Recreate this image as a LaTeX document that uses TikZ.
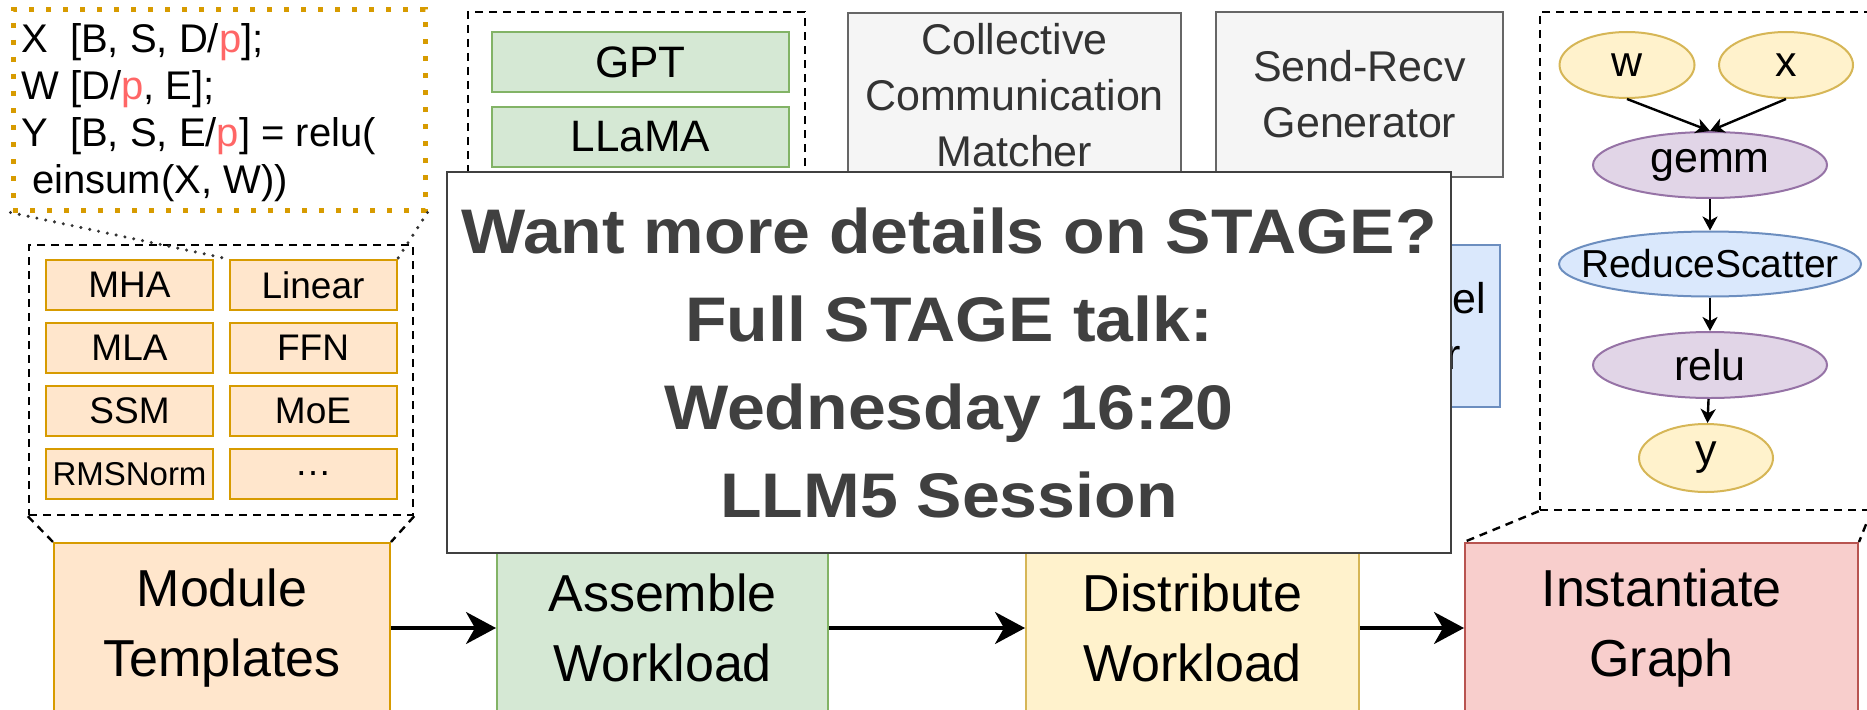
\documentclass[tikz,border=0pt]{standalone}
\usepackage{fontspec}
\setmainfont{Liberation Sans}
\newfontfamily\notefont[FakeStretch=1.08]{Liberation Sans}
\usepackage{xcolor}
\usepackage{tikz}
\usetikzlibrary{shapes.geometric,arrows.meta,positioning}
\definecolor{cOrange}{HTML}{D79B00}
\definecolor{cOrangeS}{HTML}{FFE6CC}
\definecolor{cGreen}{HTML}{82B366}
\definecolor{cGreenS}{HTML}{D5E8D4}
\definecolor{cYellow}{HTML}{D6B656}
\definecolor{cYellowS}{HTML}{FFF2CC}
\definecolor{cRed}{HTML}{B85450}
\definecolor{cRedS}{HTML}{F8CECC}
\definecolor{cBlue}{HTML}{6C8EBF}
\definecolor{cBlueS}{HTML}{DAE8FC}
\definecolor{cPurple}{HTML}{9673A6}
\definecolor{cPurpleS}{HTML}{E1D5E7}
\definecolor{cGray}{HTML}{666666}
\definecolor{cGrayS}{HTML}{F5F5F5}
\definecolor{cText}{HTML}{333333}
\definecolor{cInk}{HTML}{404040}
\definecolor{cShard}{HTML}{FF6666}
\newcommand{\fs}[2]{\fontsize{#1}{#2}\selectfont}
\newcommand{\shard}{\textcolor{cShard}{p}}
\tikzset{
  grp/.style     = {draw=black, line width=2.4pt, dash pattern=on 8pt off 6pt},
  codebox/.style = {rectangle, draw=cOrange, line width=5pt, dash pattern=on 5pt off 12pt,
                    minimum width=412pt, minimum height=200pt},
  codetxt/.style = {align=left, inner sep=0pt, font=\fs{40}{46.7}},
  callout/.style = {draw=black!80, line width=3.4pt, line cap=round, dash pattern=on 0pt off 9pt},
  tile/.style    = {rectangle, draw=cOrange, fill=cOrangeS, line width=2pt,
                    minimum width=167pt, minimum height=50pt, inner sep=0pt, font=\fs{37}{44}},
  model/.style   = {rectangle, draw=cGreen, fill=cGreenS, line width=2pt,
                    minimum width=297pt, minimum height=60pt, inner sep=0pt, font=\fs{44}{52}},
  comp/.style 2 args  = {rectangle, draw=#1, fill=#2, line width=2.2pt, align=center,
                    inner sep=0pt, font=\fs{43}{56}},
  stage/.style 2 args = {rectangle, draw=#1, fill=#2, line width=2pt, align=center,
                    minimum height=170pt, inner sep=0pt, font=\fs{52}{70}},
  op/.style 2 args    = {ellipse, draw=#1, fill=#2, line width=2pt, inner sep=0pt,
                    minimum width=234pt, minimum height=66pt, font=\fs{43}{50}},
  dep/.style     = {-{Stealth[length=14pt,width=15pt,inset=4pt]}, line width=2.4pt},
  flow/.style    = {-{Stealth[length=30pt,width=32pt,inset=9pt]}, line width=3.2pt},
  note/.style    = {rectangle, draw=cInk, fill=white, line width=2pt, align=center,
                    minimum width=1004pt, minimum height=381pt, text=cInk,
                    font=\notefont\bfseries\fs{63}{88}},
}

\begin{document}
\begin{tikzpicture}[x=1pt, y=-1pt]
  \useasboundingbox (0,0) rectangle (1867,709);
  \clip (0,0) rectangle (1867,709);

  % module library
  \node[grp, minimum width=384pt, minimum height=270pt] (mgrp) at (221,380) {};
  \foreach \name/\col/\row/\txt in {mha/0/0/MHA, lin/1/0/Linear, mla/0/1/MLA, ffn/1/1/FFN,
      ssm/0/2/SSM, moe/1/2/MoE, rms/0/3/{\fs{33}{40}RMSNorm}, etc/1/3/{\ldots}}
    \node[tile] (\name) at (129.5+183.5*\col, 285+63*\row) {\txt};

  \node[codebox] (code) at (219,110) {};
  % base of a multi-line node sits on its last line
  \node[codetxt, anchor=base west] (spec) at (21,193)
    {X~~[B, S, D/\shard];\\W [D/\shard, E];\\Y~~[B, S, E/\shard] = relu(\\~einsum(X, W))};
  \draw[callout] (code.south west) -- (lin.north west);
  \draw[callout] (code.south east) -- (lin.north east);

  % models
  \node[grp, minimum width=337pt, minimum height=503pt] (agrp) at (636.5,263.5) {};
  \node[model] (gpt) at (640.5,62) {GPT};
  \node[model] (llama) at (640.5,137) {LLaMA};

  % distribution passes
  \node[comp={cGray}{cGrayS}, text=cText, minimum width=333pt, minimum height=164pt] (ccm)
    at (1014.5,95) {Collective\\Communication\\Matcher};
  \node[comp={cGray}{cGrayS}, text=cText, minimum width=287pt, minimum height=165pt] (srg)
    at (1359.5,94.5) {Send-Recv\\Generator};
  \node[comp={cBlue}{cBlueS}, minimum width=274pt, minimum height=162pt] (dpp)
    at (1363,326) {Data Parallel\\Partitioner};

  % instantiated graph
  \node[grp, minimum width=330pt, minimum height=498pt] (ggrp) at (1705,261) {};
  \node[op={cYellow}{cYellowS}, minimum width=135pt] (wt) at (1627,65) {w};
  \node[op={cYellow}{cYellowS}, minimum width=134pt] (xt) at (1786,65) {x};
  \node[op={cPurple}{cPurpleS}] (gemm) at (1710,165) {gemm};
  \node[op={cBlue}{cBlueS}, minimum width=302pt, minimum height=65pt, font=\fs{39}{46}] (rs)
    at (1710,264) {\makebox[0pt]{ReduceScatter}};
  \node[op={cPurple}{cPurpleS}] (relu) at (1710,365) {relu};
  \node[op={cYellow}{cYellowS}, minimum width=134pt, minimum height=68pt] (yt) at (1706,458) {y};
  \draw[dep] (wt.south) -- (gemm.north);
  \draw[dep] (xt.south) -- (gemm.north);
  \draw[dep] (gemm) -- (rs);
  \draw[dep] (rs) -- (relu);
  \draw[dep] (relu) -- (yt);

  % pipeline
  \node[stage={cOrange}{cOrangeS}, minimum width=336pt] (mod) at (222,628) {Module\\Templates};
  \node[stage={cGreen}{cGreenS}, minimum width=331pt] (asm) at (662.5,628) {Assemble\\Workload};
  \node[stage={cYellow}{cYellowS}, minimum width=333pt] (dist) at (1192.5,628) {Distribute\\Workload};
  \node[stage={cRed}{cRedS}, minimum width=393pt] (inst) at (1661.5,628) {Instantiate\\Graph};
  \draw[flow] (mod) -- (asm);
  \draw[flow] (asm) -- (dist);
  \draw[flow] (dist) -- (inst);
  \draw[grp] (mgrp.south west) -- (mod.north west);
  \draw[grp] (mgrp.south east) -- (mod.north east);
  \draw[grp] (ggrp.south west) -- (inst.north west);
  \draw[grp] (ggrp.south east) -- (inst.north east);

  \node[note] (talk) at (949,362.5)
    {Want more details on STAGE?\\Full STAGE talk:\\Wednesday 16:20\\LLM5 Session};
\end{tikzpicture}
\end{document}
